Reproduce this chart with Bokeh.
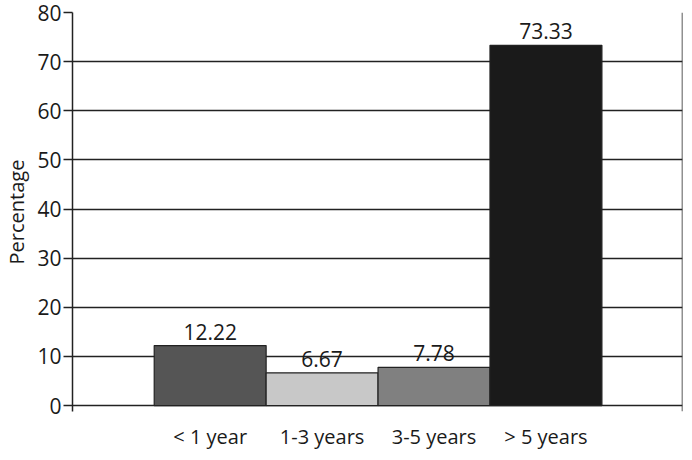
from bokeh.plotting import figure
from bokeh.models import ColumnDataSource, FixedTicker, Range1d, Span, LabelSet
from bokeh.core.properties import value
from bokeh.embed import file_html
from bokeh.resources import INLINE

categories = ["< 1 year", "1-3 years", "3-5 years", "> 5 years"]
values = [12.22, 6.67, 7.78, 73.33]
labels = ["12.22", "6.67", "7.78", "73.33"]
colors = ["#555555", "#c8c8c8", "#808080", "#1a1a1a"]
y_ticks = [0, 10, 20, 30, 40, 50, 60, 70, 80]

FONT = "Open Sans"

xs = list(range(len(categories)))
src = ColumnDataSource(dict(x=xs, top=values, lab=labels, color=colors))

p = figure(width=684, height=452, output_backend="svg", toolbar_location=None,
           x_range=Range1d(-1.23, 4.22), y_range=Range1d(-1.2, 80),
           min_border_left=0, min_border_right=2, min_border_top=12, min_border_bottom=0)
p.outline_line_color = None
p.background_fill_color = "white"

p.vbar(x="x", top="top", bottom=0, width=1.0, fill_color="color",
       line_color="#222222", line_width=1.2, source=src)

p.add_layout(LabelSet(x="x", y="top", text="lab", source=src, text_align="center",
                      text_baseline="bottom", y_offset=6, text_font=value(FONT),
                      text_font_size="21px", text_color="#1a1a1a"))

# right border
p.add_layout(Span(location=4.22, dimension="height", line_color="#222222", line_width=1.5))

p.xgrid.grid_line_color = None
p.ygrid.ticker = FixedTicker(ticks=y_ticks)
p.ygrid.grid_line_color = "#222222"
p.ygrid.grid_line_width = 1.5
p.ygrid.grid_line_alpha = 1.0

ya = p.yaxis[0]
ya.ticker = FixedTicker(ticks=y_ticks)
ya.axis_line_color = "#222222"
ya.axis_line_width = 1.5
ya.major_tick_line_color = "#222222"
ya.major_tick_line_width = 1.5
ya.major_tick_out = 9
ya.major_tick_in = 0
ya.minor_tick_line_color = None
ya.major_label_standoff = 2
ya.major_label_text_font = FONT
ya.major_label_text_font_size = "21px"
ya.major_label_text_color = "#1a1a1a"
ya.axis_label = "Percentage"
ya.axis_label_text_font = FONT
ya.axis_label_text_font_size = "20px"
ya.axis_label_text_font_style = "normal"
ya.axis_label_text_color = "#1a1a1a"
ya.axis_label_standoff = 4

xa = p.xaxis[0]
xa.ticker = FixedTicker(ticks=xs)
xa.major_label_overrides = {i: c for i, c in zip(xs, categories)}
xa.axis_line_color = None
xa.major_tick_line_color = None
xa.minor_tick_line_color = None
xa.major_label_standoff = 5
xa.major_label_text_font = FONT
xa.major_label_text_font_size = "20px"
xa.major_label_text_color = "#1a1a1a"

open("out.html", "w").write(file_html(p, INLINE))
